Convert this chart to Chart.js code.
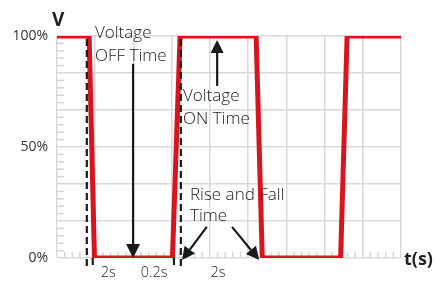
<!DOCTYPE html>
<html lang="en">
<head>
    <meta charset="UTF-8">
    <title>Voltage ON/OFF Time</title>
    <style>
        html, body { margin: 0; padding: 0; background: #fff; }
        #chartContainer { width: 435px; height: 287px; }
    </style>
    <script src="https://cdn.jsdelivr.net/npm/chart.js"></script>
</head>
<body>
    <div id="chartContainer">
        <canvas id="pulseChart"></canvas>
    </div>

    <script>
        // waveform (x in grid units, y in %)
        const timeX = [0, 0.84, 0.98, 3.02, 3.22, 5.21, 5.37, 7.42, 7.59, 9];
        const voltagePct = [100, 100, 0, 0, 100, 100, 0, 0, 100, 100];

        const yLabelValues = [0, 50, 100];
        const yLabelTexts = ['0%', '50%', '100%'];

        // interval labels under the axis
        const intervalLabels = ['2s', '0.2s', '2s'];
        const intervalLabelX = [1.34, 2.54, 4.21];

        // dashed markers: x position, whether it runs the full height
        const dashX = [0.78, 0.935, 3.06, 3.24];
        const dashFull = [true, false, false, true];

        const FONT = '"Open Sans", "DejaVu Sans", sans-serif';
        const TEXT = '#222';

        function arrow(ctx, x1, y1, x2, y2, head, half) {
            const a = Math.atan2(y2 - y1, x2 - x1);
            const bx = x2 - head * Math.cos(a), by = y2 - head * Math.sin(a);
            ctx.beginPath();
            ctx.moveTo(x1, y1);
            ctx.lineTo(bx, by);
            ctx.stroke();
            ctx.beginPath();
            ctx.moveTo(x2, y2);
            ctx.lineTo(bx + half * Math.sin(a), by - half * Math.cos(a));
            ctx.lineTo(bx - half * Math.sin(a), by + half * Math.cos(a));
            ctx.closePath();
            ctx.fill();
        }

        const decorations = {
            id: 'decorations',
            beforeDatasetsDraw(chart) {
                const ctx = chart.ctx, xs = chart.scales.x, ys = chart.scales.y;
                const area = chart.chartArea;
                ctx.save();
                ctx.strokeStyle = '#d4d4d4';
                ctx.lineWidth = 1.5;
                // minor ticks on left edge
                for (let i = 1; i < 30; i++) {
                    if (i % 5 === 0) continue;
                    const y = ys.getPixelForValue(i * 100 / 30);
                    ctx.beginPath();
                    ctx.moveTo(area.left, y);
                    ctx.lineTo(area.left + 7, y);
                    ctx.stroke();
                }
                // minor ticks on bottom edge
                for (let i = 1; i < 45; i++) {
                    if (i % 5 === 0) continue;
                    const x = xs.getPixelForValue(i * 0.2);
                    ctx.beginPath();
                    ctx.moveTo(x, area.bottom);
                    ctx.lineTo(x, area.bottom - 6);
                    ctx.stroke();
                }
                ctx.restore();
            },
            afterDatasetsDraw(chart) {
                const ctx = chart.ctx, xs = chart.scales.x, ys = chart.scales.y;
                const area = chart.chartArea;
                const px = v => xs.getPixelForValue(v);
                const py = v => ys.getPixelForValue(v);
                ctx.save();

                // dashed markers
                ctx.strokeStyle = '#1a1a1a';
                ctx.lineWidth = 2.2;
                ctx.setLineDash([7, 4]);
                dashX.forEach((v, i) => {
                    ctx.beginPath();
                    ctx.moveTo(px(v), dashFull[i] ? area.top + 3 : area.bottom);
                    ctx.lineTo(px(v), area.bottom + 9);
                    ctx.stroke();
                });
                ctx.setLineDash([]);

                // arrows
                ctx.fillStyle = '#1a1a1a';
                ctx.lineWidth = 2.2;
                arrow(ctx, px(1.99), py(87.5), px(1.99), py(0), 14, 7);
                arrow(ctx, px(4.19), py(77.5), px(4.19), py(98.2), 13, 6.5);
                arrow(ctx, px(3.92), py(14), px(3.27), py(-0.9), 13, 6.5);
                arrow(ctx, px(4.58), py(14), px(5.29), py(-0.9), 13, 6.5);

                // annotation texts
                ctx.fillStyle = TEXT;
                ctx.font = '300 17px ' + FONT;
                ctx.textAlign = 'left';
                ctx.textBaseline = 'alphabetic';
                ctx.fillText('Voltage', 95, 38);
                ctx.fillText('OFF Time', 95, 61);
                ctx.fillText('Voltage', 183, 101);
                ctx.fillText('ON Time', 183, 124);
                ctx.fillText('Rise and Fall', 190, 200);
                ctx.fillText('Time', 190, 221);

                // interval labels
                ctx.font = '300 14.5px ' + FONT;
                ctx.textAlign = 'center';
                intervalLabels.forEach((t, i) => ctx.fillText(t, px(intervalLabelX[i]), 277));

                // axis titles
                ctx.font = 'bold 19px ' + FONT;
                ctx.textAlign = 'left';
                ctx.fillText('V', 52, 26);
                ctx.font = 'bold 18px ' + FONT;
                ctx.fillText('t(s)', 404, 265);
                ctx.restore();
            }
        };

        const ctx = document.getElementById('pulseChart').getContext('2d');
        new Chart(ctx, {
            type: 'line',
            data: {
                datasets: [{
                    data: timeX.map((x, i) => ({ x: x, y: voltagePct[i] })),
                    borderColor: '#d8141f',
                    borderWidth: 5,
                    pointRadius: 0,
                    tension: 0,
                    borderJoinStyle: 'miter',
                    fill: false
                }]
            },
            options: {
                responsive: true,
                maintainAspectRatio: false,
                animation: false,
                layout: { padding: { left: 0, right: 34, top: 36, bottom: 0 } },
                plugins: { legend: { display: false }, tooltip: { enabled: false } },
                scales: {
                    x: {
                        type: 'linear',
                        min: 0,
                        max: 9,
                        ticks: { stepSize: 1, display: false },
                        grid: { color: '#d9d9d9', lineWidth: 1.5, drawTicks: false },
                        border: { display: false },
                        afterFit: s => { s.height = 29; }
                    },
                    y: {
                        min: 0,
                        max: 100,
                        afterBuildTicks: s => {
                            s.ticks = [0, 1, 2, 3, 4, 5, 6].map(i => ({ value: i * 100 / 6 }));
                        },
                        ticks: {
                            padding: 9,
                            color: '#333',
                            font: { family: FONT, size: 14, weight: 400 },
                            callback: v => {
                                const k = yLabelValues.findIndex(l => Math.abs(l - v) < 0.01);
                                return k >= 0 ? yLabelTexts[k] : '';
                            }
                        },
                        grid: { color: '#d9d9d9', lineWidth: 1.5, drawTicks: false },
                        border: { display: false },
                        afterFit: s => { s.width = 57; }
                    }
                }
            },
            plugins: [decorations]
        });
    </script>
</body>
</html>
